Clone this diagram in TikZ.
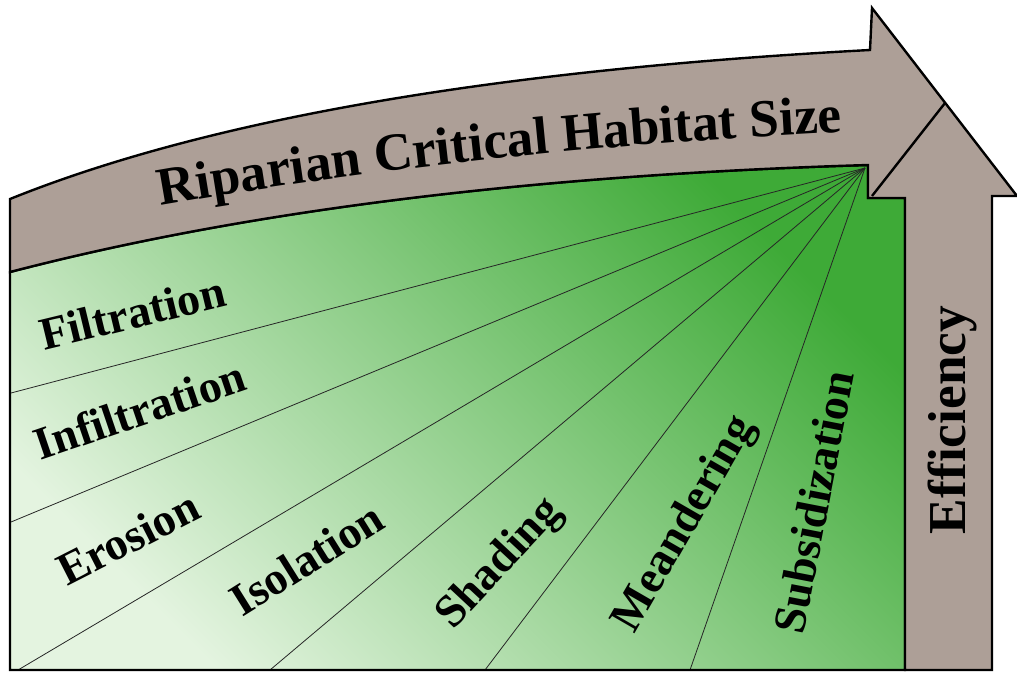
\documentclass[tikz,border=0pt]{standalone}
\usepackage{fontspec}
\setmainfont{Liberation Serif}
\usepackage{tikz}
\usetikzlibrary{decorations.text}

\definecolor{arrowfill}{RGB}{173,159,151}
\definecolor{grassdark}{RGB}{62,170,55}
\definecolor{grasslight}{RGB}{228,244,224}
\newcommand{\titlefont}{\fontsize{40}{40}\selectfont\bfseries}
\newcommand{\factorfont}{\fontsize{34.5}{34.5}\selectfont\bfseries}

\begin{document}
\begin{tikzpicture}[x=0.75pt, y=-0.75pt,
  outline/.style={draw=black, line width=1.8pt, line join=miter},
  fanline/.style={draw=black!85, line width=0.6pt},
  factor/.style={font=\factorfont, anchor=base, inner sep=0pt}]
  \useasboundingbox (0,0) rectangle (1017,675);
  % green field below the habitat arrow
  \shade[top color=grassdark, bottom color=grasslight, shading angle=-45]
    (10,272) .. controls (245.3,210.7) and (531.3,175) .. (868,165) -- (868,198) -- (905,198) -- (905,670) -- (10,670) -- cycle;
  \coordinate (apex) at (865,168);
  \foreach \x/\y [count=\i] in {11/393, 11/522, 18/670, 270/670, 485/670, 690/670} {
    \coordinate (fan\i) at (\x,\y);
    \draw[fanline] (apex) -- (fan\i);
  }
  \draw[outline] (10,272) .. controls (245.3,210.7) and (531.3,175) .. (868,165) -- (868,198) -- (905,198) -- (905,670) -- (10,670) -- cycle;
  % the two arrows
  \filldraw[outline, fill=arrowfill] (10,199) .. controls (206.7,119.7) and (493.3,70) .. (870,50) -- (872,8) -- (1017,196) -- (992,196) -- (992,670) -- (905,670) -- (905,198) -- (868,198) -- (868,165) .. controls (531.3,175) and (245.3,210.7) .. (10,272) -- cycle;
  \coordinate (tip) at (945,103);
  \coordinate (headbase) at (872,196);
  \draw[outline] (tip) -- (headbase);
  \path[decorate, decoration={text along path, text={|\titlefont|Riparian Critical Habitat Size}, text align=center}]
    (85.2,219.8) .. controls (333.9,171.1) and (611.9,140.7) .. (919,128.6);
  \node[font=\titlefont, anchor=base, inner sep=0pt, rotate=90] (eff) at (965,420) {Efficiency};
  % factors
  \node[factor, rotate=13.6] (filt) at (136,328) {Filtration};
  \node[factor, rotate=18.8] (infilt) at (145,425) {Infiltration};
  \node[factor, rotate=27] (eros) at (135,552) {Erosion};
  \node[factor, rotate=32] (isol) at (315,572) {Isolation};
  \node[factor, rotate=47] (shad) at (508,572) {Shading};
  \node[factor, rotate=60] (meand) at (695,530) {Meandering};
  \node[factor, rotate=79] (subs) at (829,505) {Subsidization};
\end{tikzpicture}
\end{document}
